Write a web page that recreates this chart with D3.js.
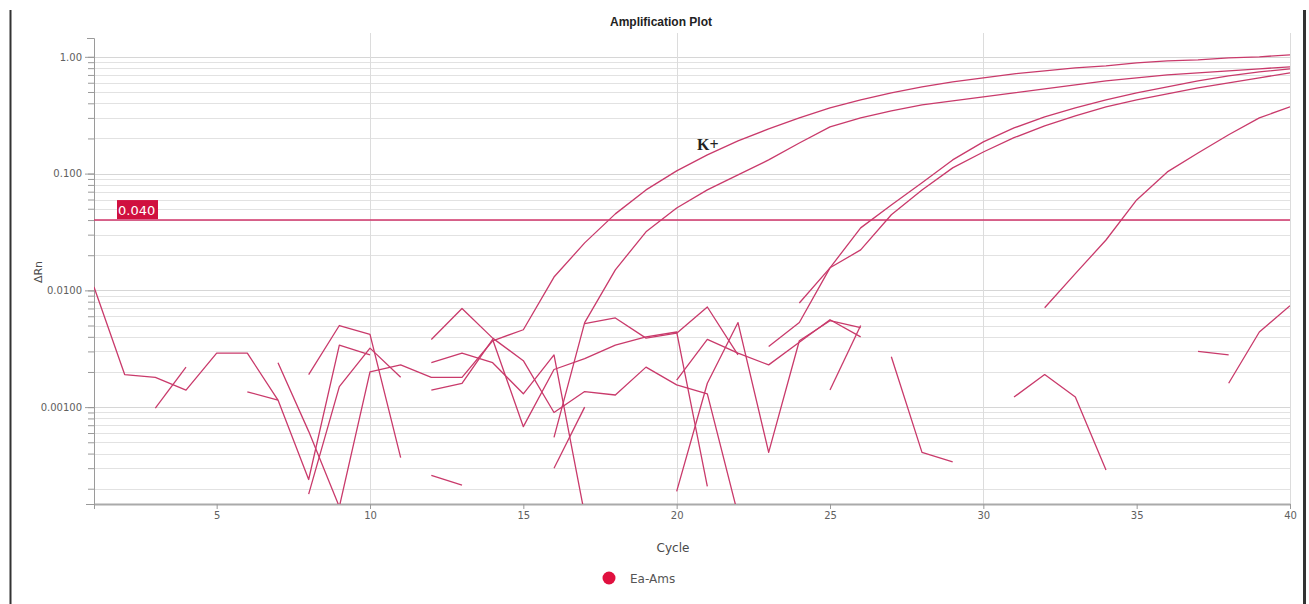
<!DOCTYPE html>
<html>
<head>
<meta charset="utf-8">
<script src="https://cdn.jsdelivr.net/npm/d3@7/dist/d3.min.js"></script>
<style>
	body{margin:0;background:#fff;}
	svg{display:block;}
</style>
</head>
<body>
<div id="chartHolder"></div>
<script>
var _ = null;

// cycle numbers (x)
var cycles = [1,2,3,4,5,6,7,8,9,10,11,12,13,14,15,16,17,18,19,20,
              21,22,23,24,25,26,27,28,29,30,31,32,33,34,35,36,37,38,39,40];

var xTicks = [1,5,10,15,20,25,30,35,40];
var xGridCycles = [10,20,30,40];
var yMajor = [1, 0.1, 0.01, 0.001];
var yMajorLabels = ["1.00","0.100","0.0100","0.00100"];

var threshold = 0.040;
var thresholdLabel = "0.040";
var legendName = "Ea-Ams";

// Delta Rn per cycle, null = not plotted (<= 0 on log axis)
// amplified wells
var ampA = [_,_,_,_,_,_,0.0024,0.00062,0.00014,0.0020,
            0.0023,0.0018,0.0018,0.0037,0.0046,0.0130,0.0255,0.0452,0.0725,0.1055,
            0.1446,0.1906,0.2415,0.300,0.366,0.428,0.492,0.553,0.611,0.661,
            0.715,0.759,0.805,0.837,0.888,0.924,0.942,0.980,1.00,1.04];
var ampB = [_,_,_,_,_,_,_,_,_,_,
            _,_,_,_,_,0.00055,0.0053,0.0150,0.0317,0.0508,
            0.0725,0.0975,0.131,0.183,0.251,0.300,0.345,0.388,0.420,0.454,
            0.492,0.532,0.575,0.623,0.661,0.701,0.730,0.759,0.789,0.821];
var ampC = [_,_,_,_,_,_,_,_,_,_,
            _,_,_,_,_,_,_,_,_,_,
            _,_,_,0.0078,0.0156,0.0343,0.0539,0.0834,0.131,0.187,
            0.246,0.306,0.366,0.428,0.492,0.553,0.623,0.688,0.744,0.789];
var ampD = [_,_,_,_,_,_,_,_,_,_,
            _,_,_,_,_,_,_,_,_,_,
            _,_,0.0033,0.0053,0.0156,0.0222,0.0444,0.0725,0.112,0.153,
            0.203,0.256,0.312,0.373,0.428,0.482,0.543,0.599,0.661,0.729];
var ampE = [_,_,_,_,_,_,_,_,_,_,
            _,_,_,_,_,_,_,_,_,_,
            _,_,_,_,_,_,_,_,_,_,
            _,0.0071,0.0139,0.027,0.0595,0.1034,0.150,0.215,0.300,0.373];

// non amplified wells (noise)
var n01 = [0.0107,0.0019,0.0018,0.0014,0.0029,0.0029,0.00115,0.00024,0.0034,0.0028,
           _,_,_,_,_,_,_,_,_,_, _,_,_,_,_,_,_,_,_,_, _,_,_,_,_,_,_,_,_,_];
var n02 = [_,_,0.00098,0.0022,_,_,_,_,_,_,
           _,_,_,_,_,_,_,_,_,_, _,_,_,_,_,_,_,_,_,_, _,_,_,_,_,_,_,_,_,_];
var n03 = [_,_,_,_,_,0.00135,0.00115,_,_,_,
           _,_,_,_,_,_,_,_,_,_, _,_,_,_,_,_,_,_,_,_, _,_,_,_,_,_,_,_,_,_];
var n04 = [_,_,_,_,_,_,_,0.0019,0.0050,0.0042,
           0.00037,_,_,_,_,_,_,_,_,_, _,_,_,_,_,_,_,_,_,_, _,_,_,_,_,_,_,_,_,_];
var n05 = [_,_,_,_,_,_,_,0.00018,0.0015,0.0032,
           0.0018,_,_,_,_,_,_,_,_,_, _,_,_,_,_,_,_,_,_,_, _,_,_,_,_,_,_,_,_,_];
var n06 = [_,_,_,_,_,_,_,_,_,_,
           _,0.0038,0.0070,0.0039,0.0025,0.0009,0.00136,0.00127,0.0022,0.00155,
           0.0013,0.00012,_,_,_,_,_,_,_,_, _,_,_,_,_,_,_,_,_,_];
var n07 = [_,_,_,_,_,_,_,_,_,_,
           _,0.0014,0.0016,0.0038,0.00068,0.0021,0.0026,0.0034,0.0040,0.0044,
           0.00021,_,_,_,_,_,_,_,_,_, _,_,_,_,_,_,_,_,_,_];
var n08 = [_,_,_,_,_,_,_,_,_,_,
           _,0.0024,0.0029,0.0024,0.0013,0.0028,0.00012,_,_,_,
           _,_,_,_,_,_,_,_,_,_, _,_,_,_,_,_,_,_,_,_];
var n09 = [_,_,_,_,_,_,_,_,_,_,
           _,_,_,_,_,0.00030,0.00100,_,_,_,
           _,_,_,_,_,_,_,_,_,_, _,_,_,_,_,_,_,_,_,_];
var n10 = [_,_,_,_,_,_,_,_,_,_,
           _,0.00026,0.000215,_,_,_,_,_,_,_,
           _,_,_,_,_,_,_,_,_,_, _,_,_,_,_,_,_,_,_,_];
var n11 = [_,_,_,_,_,_,_,_,_,_,
           _,_,_,_,_,_,0.0052,0.0058,0.0039,0.0043,
           0.0072,0.0028,_,_,_,_,_,_,_,_, _,_,_,_,_,_,_,_,_,_];
var n12 = [_,_,_,_,_,_,_,_,_,_,
           _,_,_,_,_,_,_,_,_,0.00019,
           0.0016,0.0053,0.00041,0.0037,0.0055,0.0048,_,_,_,_, _,_,_,_,_,_,_,_,_,_];
var n13 = [_,_,_,_,_,_,_,_,_,_,
           _,_,_,_,_,_,_,_,_,0.0017,
           0.0038,0.0029,0.0023,0.0036,0.0056,0.0040,_,_,_,_, _,_,_,_,_,_,_,_,_,_];
var n14 = [_,_,_,_,_,_,_,_,_,_, _,_,_,_,_,_,_,_,_,_,
           _,_,_,_,0.0014,0.0050,_,_,_,_, _,_,_,_,_,_,_,_,_,_];
var n15 = [_,_,_,_,_,_,_,_,_,_, _,_,_,_,_,_,_,_,_,_,
           _,_,_,_,_,_,0.0027,0.00041,0.00034,_, _,_,_,_,_,_,_,_,_,_];
var n16 = [_,_,_,_,_,_,_,_,_,_, _,_,_,_,_,_,_,_,_,_, _,_,_,_,_,_,_,_,_,_,
           0.00122,0.0019,0.00122,0.00029,_,_,_,_,_,_];
var n17 = [_,_,_,_,_,_,_,_,_,_, _,_,_,_,_,_,_,_,_,_, _,_,_,_,_,_,_,_,_,_,
           _,_,_,_,_,_,0.0030,0.0028,_,_];
var n18 = [_,_,_,_,_,_,_,_,_,_, _,_,_,_,_,_,_,_,_,_, _,_,_,_,_,_,_,_,_,_,
           _,_,_,_,_,_,_,0.0016,0.0044,0.0074];

var wells = [n01,n02,n03,n04,n05,n06,n07,n08,n09,n10,n11,n12,n13,n14,n15,n16,n17,n18,
             ampA,ampB,ampC,ampD,ampE];

/***************************************************************************************/
var width = 1309;
var height = 604;
var plotLeft = 94, plotRight = 1290, plotTop = 38, plotBottom = 504;

var lineColor = "#c93a6b";
var axisColor = "#9a9a9a";
var gridColor = "#e2e2e2";
var textColor = "#606060";

var x = d3.scaleLinear().domain([1, 40]).range([plotLeft, plotRight]);
var y = d3.scaleLog().domain([0.000148, 1.45]).range([plotBottom, plotTop]);

var svg = d3.select("#chartHolder")
				.append("svg")
				.attr("width", width)
				.attr("height", height)
				.style("font-family", "'DejaVu Sans', Verdana, sans-serif");

// page borders
svg.append("line")
	.attr("x1", 10.5).attr("x2", 10.5).attr("y1", 10).attr("y2", height)
	.attr("stroke", "#333").attr("stroke-width", 2);
svg.append("line")
	.attr("x1", 1304.5).attr("x2", 1304.5).attr("y1", 10).attr("y2", height)
	.attr("stroke", "#333").attr("stroke-width", 3);

// title
svg.append("text")
	.attr("text-anchor", "middle")
	.attr("x", 661)
	.attr("y", 26)
	.style("font-family", "'Liberation Sans', Arial, sans-serif")
	.style("font-weight", "bold")
	.style("font-size", "12px")
	.attr("fill", "#222")
	.text("Amplification Plot");

// horizontal grid
svg.append("g")
	.selectAll("line")
	.data(y.ticks())
	.enter()
	.append("line")
	.attr("x1", plotLeft)
	.attr("x2", plotRight)
	.attr("y1", function(d){ return Math.round(y(d)) + 0.5; })
	.attr("y2", function(d){ return Math.round(y(d)) + 0.5; })
	.attr("stroke", function(d){ return yMajor.indexOf(d) >= 0 ? "#d6d6d6" : gridColor; })
	.attr("stroke-width", 1);

// vertical grid
svg.append("g")
	.selectAll("line")
	.data(xGridCycles)
	.enter()
	.append("line")
	.attr("x1", function(d){ return Math.round(x(d)) + 0.5; })
	.attr("x2", function(d){ return Math.round(x(d)) + 0.5; })
	.attr("y1", plotTop - 5)
	.attr("y2", plotBottom)
	.attr("stroke", "#dcdcdc")
	.attr("stroke-width", 1);

// y axis: minor ticks then major ticks with labels
var yMinorAxis = d3.axisLeft(y).tickValues(y.ticks()).tickSize(6).tickSizeOuter(7).tickFormat("");
var yMajorAxis = d3.axisLeft(y).tickValues(yMajor).tickSize(9).tickSizeOuter(0).tickPadding(3)
					.tickFormat(function(d, i){ return yMajorLabels[i]; });

var gy1 = svg.append("g").attr("transform", "translate(" + plotLeft + ",0)").call(yMinorAxis);
var gy2 = svg.append("g").attr("transform", "translate(" + plotLeft + ",0)").call(yMajorAxis);
gy2.select(".domain").remove();

// x axis
var xAxis = d3.axisBottom(x).tickValues(xTicks).tickSize(5).tickSizeOuter(0).tickPadding(3)
				.tickFormat(function(d){ return d == 1 ? "" : d; });
var gx = svg.append("g").attr("transform", "translate(0," + plotBottom + ")").call(xAxis);

[gy1, gy2, gx].forEach(function(g){
	g.selectAll(".domain").attr("stroke", axisColor);
	g.selectAll(".tick line").attr("stroke", axisColor);
	g.selectAll(".tick text")
		.attr("fill", textColor)
		.style("font-family", "'DejaVu Sans', Verdana, sans-serif")
		.style("font-size", "10px");
});
gx.select(".domain").attr("stroke-width", 2).attr("stroke", "#aaa");
// small overhang of the x axis to the left of the y axis
svg.append("line")
	.attr("x1", plotLeft - 8).attr("x2", plotLeft)
	.attr("y1", plotBottom + 0.5).attr("y2", plotBottom + 0.5)
	.attr("stroke", axisColor);

// axis titles
svg.append("text")
	.attr("text-anchor", "middle")
	.attr("x", 673)
	.attr("y", 552)
	.style("font-size", "12px")
	.attr("fill", "#4a4a4a")
	.text("Cycle");

svg.append("text")
	.attr("text-anchor", "middle")
	.attr("transform", "translate(42,272) rotate(-90)")
	.style("font-size", "11px")
	.attr("fill", "#4a4a4a")
	.text("\u0394Rn");

// curves
svg.append("clipPath")
	.attr("id", "plotClip")
	.append("rect")
	.attr("x", plotLeft)
	.attr("y", plotTop)
	.attr("width", plotRight - plotLeft)
	.attr("height", plotBottom - plotTop);

var line = d3.line()
				.defined(function(d){ return d != null; })
				.x(function(d, i){ return x(cycles[i]); })
				.y(function(d){ return y(d); });

svg.append("g")
	.attr("clip-path", "url(#plotClip)")
	.selectAll("path")
	.data(wells)
	.enter()
	.append("path")
	.attr("d", line)
	.attr("fill", "none")
	.attr("stroke", lineColor)
	.attr("stroke-width", 1.3)
	.attr("stroke-linejoin", "round");

// threshold
var ty = y(threshold);
svg.append("line")
	.attr("x1", plotLeft)
	.attr("x2", plotRight)
	.attr("y1", ty)
	.attr("y2", ty)
	.attr("stroke", "#d0346a")
	.attr("stroke-width", 1.6);

svg.append("rect")
	.attr("x", plotLeft + 23)
	.attr("y", ty - 20)
	.attr("width", 41)
	.attr("height", 19)
	.attr("fill", "#d0103f");

svg.append("text")
	.attr("x", plotLeft + 24)
	.attr("y", ty - 5)
	.style("font-size", "13px")
	.attr("fill", "#fff")
	.text(thresholdLabel);

// K+ annotation
svg.append("text")
	.attr("x", 697)
	.attr("y", 150)
	.style("font-family", "'Liberation Serif', 'Times New Roman', serif")
	.style("font-weight", "bold")
	.style("font-size", "16px")
	.attr("fill", "#222")
	.text("K+");

// legend
svg.append("circle")
	.attr("cx", 609)
	.attr("cy", 578)
	.attr("r", 6.5)
	.attr("fill", "#e0103f");

svg.append("text")
	.attr("x", 630)
	.attr("y", 583)
	.style("font-size", "12px")
	.attr("fill", "#555")
	.text(legendName);
</script>
</body>
</html>
